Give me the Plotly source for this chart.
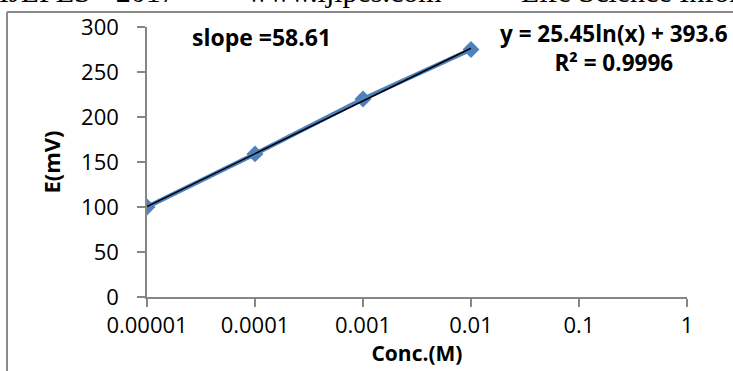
import numpy as np
import plotly.graph_objects as go

# ---- data ----
conc = [0.00001, 0.0001, 0.001, 0.01]
emf_mv = [100, 159, 220, 275]
x_tick_vals = [0.00001, 0.0001, 0.001, 0.01, 0.1, 1]
x_tick_text = ["0.00001", "0.0001", "0.001", "0.01", "0.1", "1"]
slope_label = "slope =58.61"
header_texts = ["IJLPES - 2017", "www.ijlpes.com", "Life Science Informatics"]

# logarithmic trendline fitted from the data: y = a ln(x) + b
a, b = np.polyfit(np.log(conc), emf_mv, 1)
ss_res = np.sum((np.array(emf_mv) - (a * np.log(conc) + b)) ** 2)
ss_tot = np.sum((np.array(emf_mv) - np.mean(emf_mv)) ** 2)
r2 = 1 - ss_res / ss_tot
trend_x = [conc[0], conc[-1]]
trend_y = [a * np.log(v) + b for v in trend_x]

W, H = 733, 371
L, R, T, B = 147, 46, 27, 74
pw, ph = W - L - R, H - T - B


def px(x):
    return (x - L) / pw


def py(y):
    return (H - B - y) / ph


fig = go.Figure()
fig.add_trace(go.Scatter(
    x=conc, y=emf_mv, mode="lines+markers",
    line=dict(color="#4F81BD", width=4.5),
    marker=dict(symbol="diamond", size=13, color="#4F81BD"),
    showlegend=False, hoverinfo="skip"))
fig.add_trace(go.Scatter(
    x=trend_x, y=trend_y, mode="lines",
    line=dict(color="black", width=1.5),
    showlegend=False, hoverinfo="skip"))

axis_col = "#868686"
tick_font = dict(family="Open Sans", size=22, color="black")
fig.update_xaxes(
    type="log", range=[-5, 0], tickvals=x_tick_vals, ticktext=x_tick_text,
    showline=True, linecolor=axis_col, linewidth=1.5,
    ticks="outside", ticklen=8, tickcolor=axis_col, tickwidth=1.5,
    showgrid=False, zeroline=False, tickfont=tick_font, automargin=False,
    title=dict(text="<b>Conc.(M)</b>", font=dict(family="Open Sans", size=21, color="black"), standoff=2))
fig.update_yaxes(
    range=[0, 300], dtick=50,
    showline=True, linecolor=axis_col, linewidth=1.5,
    ticks="outside", ticklen=8, tickcolor=axis_col, tickwidth=1.5,
    showgrid=False, zeroline=False, tickfont=tick_font, automargin=False,
    ticklabelstandoff=14,
    title=dict(text="<b>E(mV)</b>", font=dict(family="Open Sans", size=22, color="black"), standoff=14))

bold = dict(family="Open Sans", size=23, color="black")
fig.add_annotation(text=f"<b>{slope_label}</b>", x=px(261), y=py(37), font=bold,
                   xref="paper", yref="paper", showarrow=False, xanchor="center", yanchor="middle")
fig.add_annotation(text=f"<b>y = {a:.2f}ln(x) + {b:.1f}<br>R² = {r2:.4f}</b>",
                   x=px(614), y=py(48), font=dict(bold, size=22.5), align="center",
                   xref="paper", yref="paper", showarrow=False, xanchor="center", yanchor="middle")

hfont = dict(family="Liberation Serif", size=30, color="black")
hy = py(-9)
fig.add_annotation(text=header_texts[0], x=px(178), y=hy, xanchor="right", yanchor="middle",
                   xref="paper", yref="paper", showarrow=False, font=hfont)
fig.add_annotation(text=header_texts[1], x=px(245), y=hy, xanchor="left", yanchor="middle",
                   xref="paper", yref="paper", showarrow=False, font=hfont)
fig.add_annotation(text=header_texts[2], x=px(519), y=hy, xanchor="left", yanchor="middle",
                   xref="paper", yref="paper", showarrow=False, font=hfont)

# chart-area border (top and left edges visible)
bc = "#8A8A8A"
fig.add_shape(type="line", xref="paper", yref="paper", x0=px(7), x1=px(740), y0=py(12), y1=py(12),
              line=dict(color=bc, width=2))
fig.add_shape(type="line", xref="paper", yref="paper", x0=px(7), x1=px(7), y0=py(12), y1=py(380),
              line=dict(color=bc, width=2))

fig.update_layout(
    width=W, height=H, margin=dict(l=L, r=R, t=T, b=B),
    paper_bgcolor="white", plot_bgcolor="white", showlegend=False)

fig.write_html("out.html", config={"displayModeBar": False},
               post_script="document.body.style.margin='0';document.body.style.padding='0';"
                           "document.body.style.overflow='hidden';")
